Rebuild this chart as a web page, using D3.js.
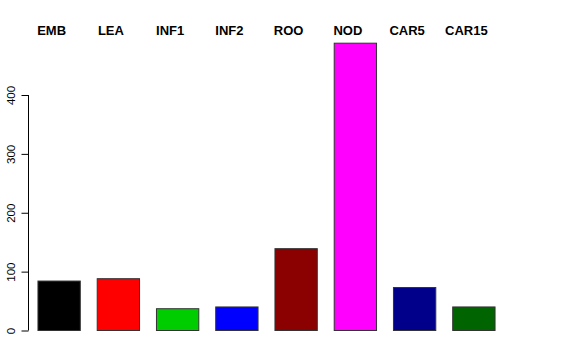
<!DOCTYPE html>
<html>
<head>
<meta charset="utf-8">
<script src="https://cdn.jsdelivr.net/npm/d3@7"></script>
<style>
  html, body { margin: 0; padding: 0; background: #fff; }
  svg { display: block; }
</style>
</head>
<body>
<svg id="chart" width="576" height="360"></svg>
<script>
const categories = ["EMB", "LEA", "INF1", "INF2", "ROO", "NOD", "CAR5", "CAR15"];
const values = [84, 88, 37, 40, 139, 488, 73, 40];
const colors = ["#000000", "#FF0000", "#00CD00", "#0000FF", "#8B0000", "#FF00FF", "#00008B", "#006400"];
const yTicks = [0, 100, 200, 300, 400];

const svg = d3.select("#chart");
const font = "'Liberation Sans', Arial, Helvetica, sans-serif";

const x = d3.scaleBand()
  .domain(categories)
  .range([29.5, 503.5])
  .paddingInner(0.4 / 1.4)
  .paddingOuter(0.2 / 1.4);

const y = d3.scaleLinear().domain([0, 400]).range([330.5, 95]);

// bars
svg.append("g").selectAll("rect")
  .data(categories)
  .join("rect")
  .attr("x", d => x(d))
  .attr("y", (d, i) => y(values[i]))
  .attr("width", x.bandwidth())
  .attr("height", (d, i) => y(0) - y(values[i]))
  .attr("fill", (d, i) => colors[i])
  .attr("stroke", "#333")
  .attr("stroke-width", 1);

// y axis
const yAxis = d3.axisLeft(y).tickValues(yTicks).tickSize(7).tickPadding(6).tickFormat(d3.format("d"));
const gy = svg.append("g").attr("transform", "translate(28.5,0)").call(yAxis);
gy.select(".domain").attr("stroke", "#000").attr("d", `M0,${y(0)}V${y(400)}`);
gy.selectAll(".tick line").attr("stroke", "#000");
gy.selectAll(".tick text")
  .attr("font-family", font)
  .attr("font-size", 11.5)
  .attr("fill", "#000")
  .attr("text-anchor", "middle")
  .attr("x", 0)
  .attr("dy", 0)
  .attr("transform", "translate(-13.5,0) rotate(-90)");

// top labels
svg.append("g").selectAll("text")
  .data(categories)
  .join("text")
  .attr("x", d => x(d) + x.bandwidth() / 2 - 7.5)
  .attr("y", 34.5)
  .attr("text-anchor", "middle")
  .attr("font-family", font)
  .attr("font-weight", "bold")
  .attr("font-size", 13)
  .attr("fill", "#000")
  .text(d => d);
</script>
</body>
</html>
